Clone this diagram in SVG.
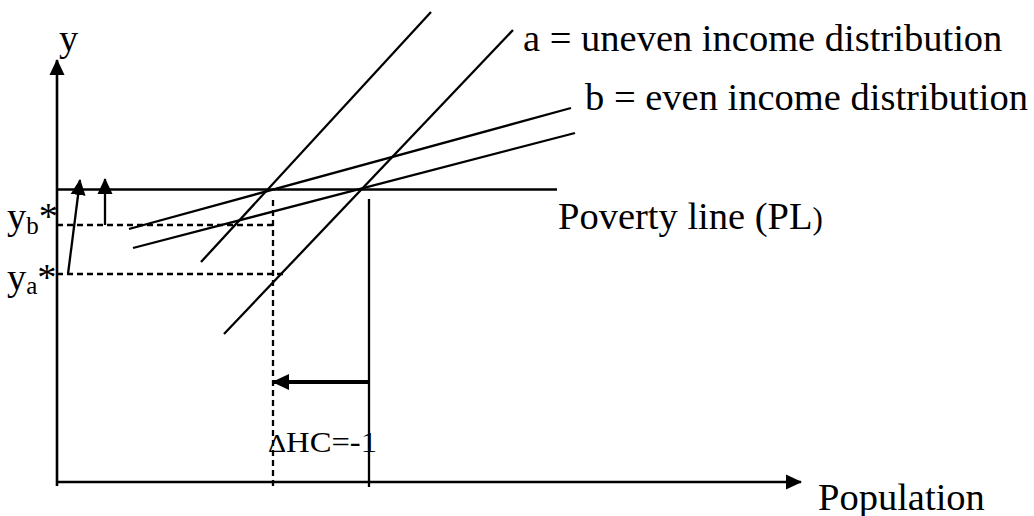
<svg xmlns="http://www.w3.org/2000/svg" width="1034" height="516" viewBox="0 0 1034 516">
<style>
.ln{stroke:#000;stroke-width:2.3;fill:none}
.ax{stroke:#000;stroke-width:2.6;fill:none}
.ds{stroke:#000;stroke-width:2.3;fill:none;stroke-dasharray:6 4}
.t{font-family:"Liberation Serif","Times New Roman",serif;font-size:38.5px;fill:#000}
.hc{font-size:29px}
.dl{font-size:25px}
</style>
<defs>
<marker id="ah" markerWidth="17" markerHeight="16" refX="15" refY="7.5" orient="auto" markerUnits="userSpaceOnUse" viewBox="0 0 17 15">
<path d="M0,0 L16,7.5 L0,15 Z" fill="#000"/>
</marker>
<marker id="ahb" markerWidth="18" markerHeight="18" refX="16" refY="8" orient="auto" markerUnits="userSpaceOnUse" viewBox="0 0 18 16">
<path d="M0,0 L17,8 L0,16 Z" fill="#000"/>
</marker>
</defs>
<rect width="1034" height="516" fill="#fff"/>
<g id="connectors">
<line class="ax" x1="57" y1="486" x2="57" y2="60" marker-end="url(#ah)"/>
<line class="ax" x1="57" y1="482" x2="801" y2="482" marker-end="url(#ah)"/>
<line class="ln" x1="57" y1="189.5" x2="557" y2="189.5"/>
<line class="ds" x1="57" y1="225" x2="274" y2="225"/>
<line class="ds" x1="57" y1="274" x2="284" y2="274"/>
<line class="ds" x1="273" y1="200" x2="273" y2="487"/>
<line class="ln" x1="369" y1="199" x2="369" y2="487"/>
<line class="ln" x1="68" y1="274" x2="80" y2="180" marker-end="url(#ah)"/>
<line class="ln" x1="105" y1="225" x2="105" y2="179" marker-end="url(#ah)"/>
<line x1="369" y1="382" x2="273" y2="382" stroke="#000" stroke-width="4" marker-end="url(#ahb)"/>
<line class="ln" x1="201" y1="262" x2="431" y2="12"/>
<line class="ln" x1="224" y1="334" x2="513" y2="30"/>
<line class="ln" x1="129" y1="229" x2="571" y2="108"/>
<line class="ln" x1="133" y1="248" x2="575" y2="133"/>
</g>
<g id="label-y"><text class="t" x="59" y="51">y</text></g>
<g id="label-yb"><text class="t" x="7" y="229">y<tspan font-size="25" style="font-size:25px" dy="5">b</tspan><tspan dy="-5">*</tspan></text></g>
<g id="label-ya"><text class="t" x="7" y="290">y<tspan style="font-size:25px" dy="4">a</tspan><tspan dy="-4">*</tspan></text></g>
<g id="label-a"><text class="t" x="523" y="51">a = uneven income distribution</text></g>
<g id="label-b"><text class="t" x="585" y="110">b = even income distribution</text></g>
<g id="label-pl"><text class="t" x="558" y="229">Poverty line (PL<tspan style="font-size:31px">)</tspan></text></g>
<g id="label-pop"><text class="t" x="818" y="510">Population</text></g>
<g id="label-hc"><text class="t hc" x="268" y="452" textLength="109" lengthAdjust="spacingAndGlyphs"><tspan class="dl">Δ</tspan>HC=-1</text></g>
</svg>
